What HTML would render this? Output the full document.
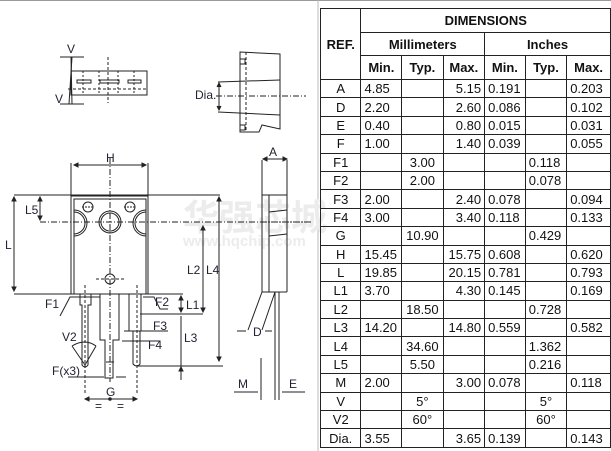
<!DOCTYPE html>
<html><head><meta charset="utf-8"><style>
html,body{margin:0;padding:0;background:#fff;}
body{width:611px;height:451px;position:relative;overflow:hidden;font-family:"Liberation Sans",Arial,sans-serif;}
svg{position:absolute;left:0;top:0;}
table{position:absolute;left:320px;top:8px;border-collapse:collapse;font-size:13px;color:#111;}
td{border:1px solid #222;padding:0 3px;height:17.4px;line-height:17px;white-space:nowrap;}
.h td{font-weight:bold;text-align:center;}
.r td:first-child{text-align:center;}
.c{text-align:center;}
.rt{text-align:right;}
</style></head><body>
<svg width="611" height="451" viewBox="0 0 611 451" font-family="Liberation Sans, Arial, sans-serif" font-size="12" fill="none" stroke="#222" stroke-width="1">
<line x1="0" y1="0.5" x2="611" y2="0.5" stroke="#999"/>
<line x1="318" y1="0" x2="318" y2="451" stroke="#bbb"/>
<!-- watermark -->
<text x="183" y="230" font-size="36" font-weight="bold" fill="#ececec" stroke="none" font-family="Liberation Sans, Noto Sans CJK SC, sans-serif">华强芯城</text>
<text x="183" y="246" font-size="15" font-weight="bold" fill="#ececec" stroke="none">www.hqchip.com</text>
<!-- top-left view -->
<rect x="71" y="71" width="76" height="24"/>
<line x1="72" y1="57" x2="69" y2="104"/><line x1="71" y1="57" x2="72" y2="104"/>
<rect x="77" y="80" width="14" height="3"/><rect x="100" y="80" width="19" height="3"/><rect x="128" y="80" width="13" height="3"/>
<line x1="108" y1="57" x2="108" y2="103" stroke-dasharray="3,2"/>
<line x1="68" y1="89" x2="147" y2="89" stroke-dasharray="3,2"/>
<line x1="83" y1="71" x2="83" y2="95" stroke-dasharray="2,2"/><line x1="99" y1="71" x2="99" y2="95" stroke-dasharray="2,2"/><line x1="118" y1="71" x2="118" y2="95" stroke-dasharray="2,2"/><line x1="134" y1="71" x2="134" y2="95" stroke-dasharray="2,2"/>
<line x1="60" y1="57" x2="84" y2="57"/><line x1="60" y1="104" x2="84" y2="104"/>
<text x="67" y="53" fill="#223" stroke="none">V</text><text x="55" y="103" fill="#223" stroke="none">V</text>
<!-- top-right view -->
<path d="M240 52 L280 54 L280 129 L262 125 L259 132 L240 132 Z"/>
<rect x="240" y="59" width="5" height="5"/><rect x="240" y="125" width="5" height="5"/>
<line x1="218" y1="82" x2="280" y2="80"/><line x1="218" y1="112" x2="280" y2="115"/>
<line x1="246" y1="52" x2="246" y2="132" stroke-dasharray="3,2"/>
<line x1="216" y1="96" x2="306" y2="96" stroke-dasharray="6,2,1,2"/>
<line x1="219" y1="84" x2="219" y2="109"/>
<path d="M217 87 L219 83 L221 87 M217 106 L219 110 L221 106" fill="#222"/>
<text x="195" y="99" fill="#223" stroke="none">Dia.</text>
<!-- main view body -->
<rect x="71" y="196" width="77" height="98"/>
<path d="M74 294 V199 H146 V294"/>
<line x1="74" y1="165" x2="146" y2="165"/><path d="M74 165 l4 -2 v4z M146 165 l-4 -2 v4z" fill="#222"/>
<line x1="71" y1="163" x2="71" y2="196"/><line x1="148" y1="163" x2="148" y2="196"/>
<text x="106" y="162" fill="#223" stroke="none">H</text>
<line x1="110" y1="158" x2="110" y2="382" stroke-dasharray="6,2,1,2"/>
<circle cx="88" cy="207" r="5"/><circle cx="130" cy="207" r="5"/>
<circle cx="110" cy="222" r="11"/><circle cx="110" cy="222" r="9"/>
<path d="M74 210 A13 13 0 0 1 74 236 M74 212 A11 11 0 0 1 74 234"/>
<path d="M146 210 A13 13 0 0 0 146 236 M146 212 A11 11 0 0 0 146 234"/>
<circle cx="110" cy="279" r="5"/>
<line x1="96" y1="279" x2="124" y2="279" stroke-dasharray="3,2"/>
<line x1="82" y1="207" x2="94" y2="207" stroke-dasharray="2,1"/><line x1="124" y1="207" x2="136" y2="207" stroke-dasharray="2,1"/>
<line x1="40" y1="222" x2="311" y2="222" stroke-dasharray="6,2,1,2"/>
<line x1="14" y1="195" x2="220" y2="195"/>
<line x1="14" y1="294" x2="183" y2="294"/>
<line x1="14" y1="197" x2="14" y2="291"/><path d="M12 201 l2 -4 l2 4z M12 287 l2 4 l2 -4z" fill="#222"/>
<text x="5" y="249" fill="#223" stroke="none">L</text>
<line x1="40" y1="197" x2="40" y2="220"/><path d="M38 201 l2 -4 l2 4z M38 216 l2 4 l2 -4z" fill="#222"/>
<text x="25" y="214" fill="#223" stroke="none">L5</text>
<line x1="203" y1="226" x2="203" y2="312"/><path d="M201 230 l2 -4 l2 4z M201 308 l2 4 l2 -4z" fill="#222"/>
<text x="187" y="274" fill="#223" stroke="none">L2</text>
<line x1="219" y1="197" x2="219" y2="361"/><path d="M217 201 l2 -4 l2 4z M217 357 l2 4 l2 -4z" fill="#222"/>
<text x="206" y="274" fill="#223" stroke="none">L4</text>
<line x1="181" y1="296" x2="181" y2="312"/><path d="M179 300 l2 -4 l2 4z M179 308 l2 4 l2 -4z" fill="#222"/>
<text x="186" y="309" fill="#223" stroke="none">L1</text>
<line x1="181" y1="316" x2="181" y2="380"/><path d="M179 371 l2 -4 l2 4z" fill="#222"/>
<text x="184" y="342" fill="#223" stroke="none">L3</text>
<line x1="140" y1="314" x2="203" y2="314"/><line x1="138" y1="366" x2="223" y2="366"/>
<!-- leads -->
<path d="M80 294 V305 H82 V365 Q85 369 88 365 V305 H91 V294"/>
<path d="M100 294 V340 H105 V378 H113 V340 H119 V294"/>
<path d="M129 294 V331 H133 V364 Q137 368 140 364 V331 H141 V294"/>
<line x1="85" y1="285" x2="85" y2="395" stroke-dasharray="3,2"/>
<line x1="137" y1="285" x2="137" y2="395" stroke-dasharray="3,2"/>
<line x1="106" y1="362" x2="114" y2="362"/>
<path d="M60 316 L70 297 L100 297"/><text x="45" y="308" fill="#223" stroke="none">F1</text>
<path d="M143 297 L154 297 L160 309 L168 309"/><text x="155" y="306" fill="#223" stroke="none">F2</text>
<line x1="124" y1="331" x2="168" y2="331"/><text x="153" y="330" fill="#223" stroke="none">F3</text>
<line x1="122" y1="341" x2="160" y2="341"/><text x="148" y="349" fill="#223" stroke="none">F4</text>
<path d="M72 346 L85 365 L96 346" /><path d="M72 346 Q85 338 96 346"/>
<text x="62" y="341" fill="#223" stroke="none">V2</text>
<line x1="68" y1="377" x2="104" y2="377"/><line x1="116" y1="377" x2="126" y2="377"/>
<text x="52" y="375" fill="#223" stroke="none">F(x3)</text>
<line x1="85" y1="399" x2="137" y2="399"/><path d="M89 397 l-4 2 l4 2z M133 397 l4 2 l-4 2z" fill="#222"/><circle cx="110" cy="399" r="1.3" fill="#222"/>
<text x="106" y="396" fill="#223" stroke="none">G</text>
<text x="95" y="410" fill="#223" stroke="none">=</text><text x="117" y="410" fill="#223" stroke="none">=</text>
<!-- side view -->
<line x1="262" y1="160" x2="262" y2="292"/><line x1="287" y1="160" x2="287" y2="292"/>
<path d="M262 195 L287 195 M262 292 L287 292 M269 195 V292"/>
<path d="M269 212 L287 210 M269 236 L287 234"/>
<line x1="263" y1="159" x2="287" y2="159"/><path d="M267 157 l-4 2 l4 2z M283 157 l4 2 l-4 2z" fill="#222"/>
<text x="269" y="156" fill="#223" stroke="none">A</text>
<path d="M275 292 V400 M279 292 V400"/>
<line x1="248" y1="330" x2="262" y2="292"/><line x1="262" y1="330" x2="275" y2="292"/>
<line x1="237" y1="331" x2="246" y2="331"/><line x1="265" y1="331" x2="272" y2="331"/>
<text x="253" y="336" fill="#223" stroke="none">D</text>
<line x1="261" y1="358" x2="261" y2="400"/>
<line x1="234" y1="392" x2="258" y2="392"/><line x1="282" y1="392" x2="305" y2="392"/>
<text x="238" y="388" fill="#223" stroke="none">M</text><text x="289" y="388" fill="#223" stroke="none">E</text>
<line x1="261" y1="222" x2="311" y2="222" stroke-dasharray="6,2,1,2"/>
</svg>
<table>
<colgroup><col style="width:42px"><col style="width:41px"><col style="width:42px"><col style="width:42px"><col style="width:41px"><col style="width:42px"><col style="width:45px"></colgroup>
<tr class="h"><td rowspan="3" style="height:70px">REF.</td><td colspan="6" style="height:23px">DIMENSIONS</td></tr>
<tr class="h"><td colspan="3" style="height:22px">Millimeters</td><td colspan="3">Inches</td></tr>
<tr class="h"><td style="height:23px">Min.</td><td>Typ.</td><td>Max.</td><td>Min.</td><td>Typ.</td><td>Max.</td></tr>
<tr class="r"><td>A</td><td>4.85</td><td></td><td class="rt">5.15</td><td>0.191</td><td></td><td>0.203</td></tr>
<tr class="r"><td>D</td><td>2.20</td><td></td><td class="rt">2.60</td><td>0.086</td><td></td><td>0.102</td></tr>
<tr class="r"><td>E</td><td>0.40</td><td></td><td class="rt">0.80</td><td>0.015</td><td></td><td>0.031</td></tr>
<tr class="r"><td>F</td><td>1.00</td><td></td><td class="rt">1.40</td><td>0.039</td><td></td><td>0.055</td></tr>
<tr class="r"><td>F1</td><td></td><td class="c">3.00</td><td></td><td></td><td>0.118</td><td></td></tr>
<tr class="r"><td>F2</td><td></td><td class="c">2.00</td><td></td><td></td><td>0.078</td><td></td></tr>
<tr class="r"><td>F3</td><td>2.00</td><td></td><td class="rt">2.40</td><td>0.078</td><td></td><td>0.094</td></tr>
<tr class="r"><td>F4</td><td>3.00</td><td></td><td class="rt">3.40</td><td>0.118</td><td></td><td>0.133</td></tr>
<tr class="r"><td>G</td><td></td><td class="c">10.90</td><td></td><td></td><td>0.429</td><td></td></tr>
<tr class="r"><td>H</td><td>15.45</td><td></td><td class="rt">15.75</td><td>0.608</td><td></td><td>0.620</td></tr>
<tr class="r"><td>L</td><td>19.85</td><td></td><td class="rt">20.15</td><td>0.781</td><td></td><td>0.793</td></tr>
<tr class="r"><td>L1</td><td>3.70</td><td></td><td class="rt">4.30</td><td>0.145</td><td></td><td>0.169</td></tr>
<tr class="r"><td>L2</td><td></td><td class="c">18.50</td><td></td><td></td><td>0.728</td><td></td></tr>
<tr class="r"><td>L3</td><td>14.20</td><td></td><td class="rt">14.80</td><td>0.559</td><td></td><td>0.582</td></tr>
<tr class="r"><td>L4</td><td></td><td class="c">34.60</td><td></td><td></td><td>1.362</td><td></td></tr>
<tr class="r"><td>L5</td><td></td><td class="c">5.50</td><td></td><td></td><td>0.216</td><td></td></tr>
<tr class="r"><td>M</td><td>2.00</td><td></td><td class="rt">3.00</td><td>0.078</td><td></td><td>0.118</td></tr>
<tr class="r"><td>V</td><td></td><td class="c">5°</td><td></td><td></td><td class="c">5°</td><td></td></tr>
<tr class="r"><td>V2</td><td></td><td class="c">60°</td><td></td><td></td><td class="c">60°</td><td></td></tr>
<tr class="r"><td>Dia.</td><td>3.55</td><td></td><td class="rt">3.65</td><td>0.139</td><td></td><td>0.143</td></tr>
</table>
</body></html>
